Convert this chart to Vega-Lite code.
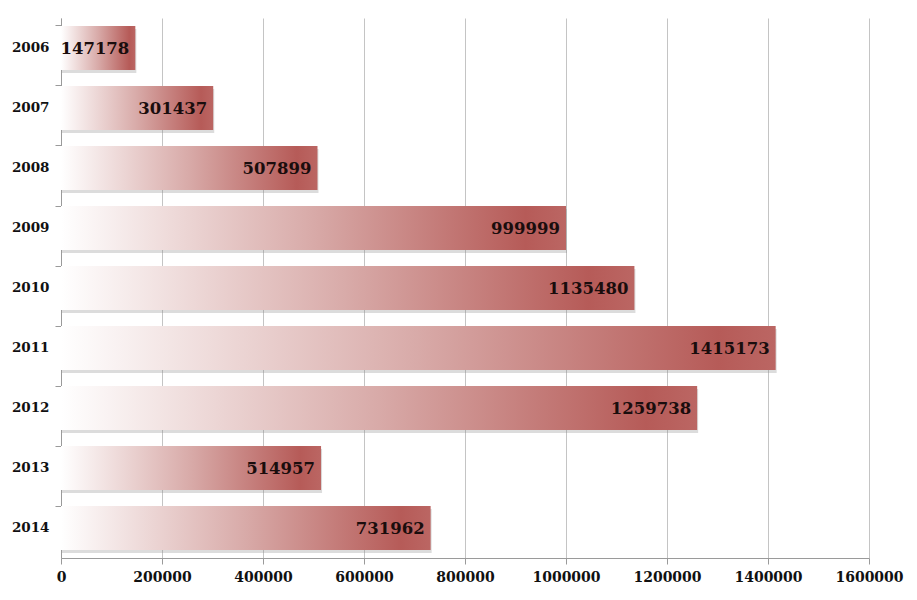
{
  "$schema": "https://vega.github.io/schema/vega-lite/v6.json",
  "width": 808,
  "height": 540,
  "autosize": "none",
  "padding": {"left": 61, "top": 18, "right": 48, "bottom": 42},
  "background": "white",
  "config": {"view": {"stroke": null}},
  "data": {"values": [
    {"year": "2006", "value": 147178},
    {"year": "2007", "value": 301437},
    {"year": "2008", "value": 507899},
    {"year": "2009", "value": 999999},
    {"year": "2010", "value": 1135480},
    {"year": "2011", "value": 1415173},
    {"year": "2012", "value": 1259738},
    {"year": "2013", "value": 514957},
    {"year": "2014", "value": 731962}
  ]},
  "encoding": {
    "y": {"field": "year", "type": "nominal", "sort": null,
      "scale": {"paddingInner": 0.267, "paddingOuter": 0.133}},
    "x": {"field": "value", "type": "quantitative",
      "scale": {"domain": [0, 1600000], "nice": false},
      "axis": {"values": [0, 200000, 400000, 600000, 800000, 1000000, 1200000, 1400000, 1600000],
        "format": "d", "title": null, "grid": true, "gridColor": "#c4c4c4", "gridWidth": 1,
        "domainColor": "#9a9a9a", "tickColor": "#9a9a9a", "tickSize": 6,
        "labelFont": "DejaVu Serif", "labelFontWeight": "bold", "labelFontSize": 14,
        "labelColor": "#111111", "labelPadding": 6, "labelFlush": false}}
  },
  "layer": [
    {
      "mark": {"type": "bar", "color": "#8a8a8a", "opacity": 0.3, "xOffset": 1, "yOffset": 3},
      "encoding": {
        "y": {"field": "year", "type": "nominal", "sort": null,
          "axis": {"orient": "left", "title": null, "labels": false, "ticks": true, "tickSize": 6,
            "bandPosition": 0, "domain": true, "domainColor": "#9a9a9a", "tickColor": "#9a9a9a"}}
      }
    },
    {
      "mark": {"type": "bar", "color": {"gradient": "linear", "x1": 0, "x2": 1, "y1": 0, "y2": 0,
        "stops": [{"offset": 0, "color": "#ffffff"}, {"offset": 0.5, "color": "#d8aaa8"}, {"offset": 0.92, "color": "#b65b58"}, {"offset": 1, "color": "#bb6663"}]}},
      "encoding": {
        "y": {"field": "year", "type": "nominal", "sort": null,
          "axis": {"orient": "left", "title": null, "labels": true, "ticks": false, "domain": false,
            "labelFont": "DejaVu Serif", "labelFontWeight": "bold", "labelFontSize": 13.5,
            "labelColor": "#111111", "labelPadding": 12}}
      }
    },
    {
      "mark": {"type": "text", "align": "right", "dx": -6, "dy": 1, "font": "DejaVu Serif", "fontWeight": "bold", "fontSize": 16.5, "color": "#1a0d0d"},
      "encoding": {
        "y": {"field": "year", "type": "nominal", "sort": null, "axis": null},
        "text": {"field": "value", "type": "quantitative", "format": "d"}}
    }
  ],
  "resolve": {"axis": {"y": "independent"}}
}
